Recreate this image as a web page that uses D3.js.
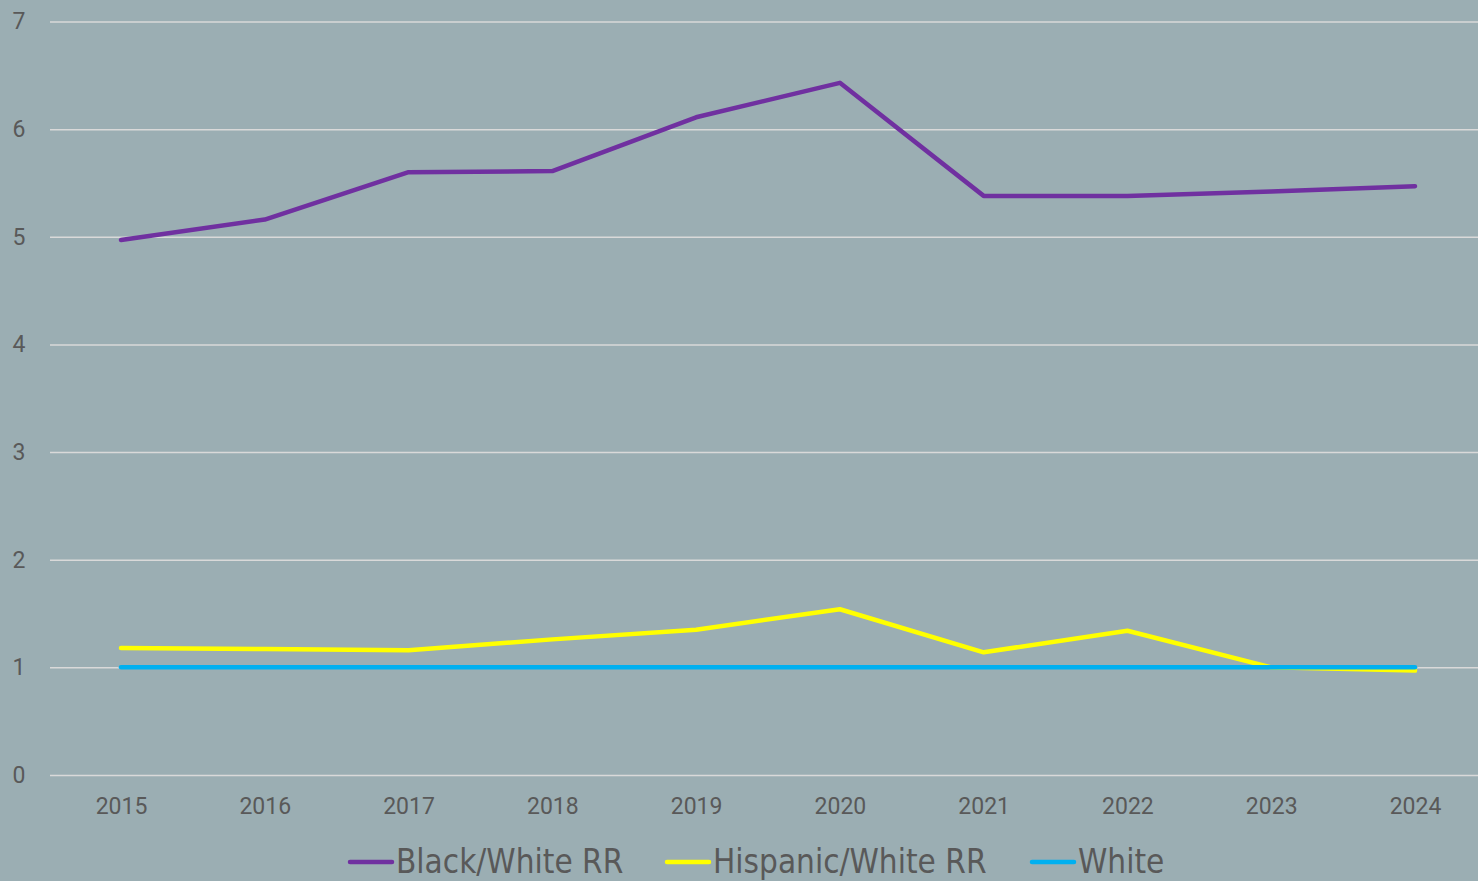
<!DOCTYPE html>
<html>
<head>
<meta charset="utf-8">
<script src="https://cdn.jsdelivr.net/npm/d3@7"></script>
<style>
  body { margin: 0; background: #9baeb3; overflow: hidden; }
  svg { display: block; }
</style>
</head>
<body>
<svg id="chart"></svg>
<script>
// data
const years = [2015, 2016, 2017, 2018, 2019, 2020, 2021, 2022, 2023, 2024];
const blackWhite = [4.97, 5.16, 5.60, 5.61, 6.11, 6.43, 5.38, 5.38, 5.42, 5.47];
const hispanicWhite = [1.18, 1.17, 1.16, 1.26, 1.35, 1.54, 1.14, 1.34, 1.00, 0.97];
const white = [1, 1, 1, 1, 1, 1, 1, 1, 1, 1];
const yTicks = [0, 1, 2, 3, 4, 5, 6, 7];

const seriesNames = ["Black/White RR", "Hispanic/White RR", "White"];
const seriesValues = [blackWhite, hispanicWhite, white];
const seriesColors = ["#7030a0", "#ffff00", "#00b0f0"];

const w = 1478, h = 881;
const padLeft = 50, padRight = w, padTop = 21.5, padBottom = 775;

const svg = d3.select("#chart").attr("width", w).attr("height", h);

// point scale so 2015 sits half a step in from the left edge
const xScale = d3.scalePoint().domain(years).range([121, 1415]);
const yScale = d3.scaleLinear().domain([0, 7]).range([padBottom, padTop]);

// gridlines
const axisY = d3.axisLeft(yScale).tickValues(yTicks).tickSize(-(padRight - padLeft)).tickFormat(d3.format("d"));
svg.append("g")
   .attr("transform", `translate(${padLeft},0)`)
   .call(axisY)
   .call(g => g.select(".domain").remove())
   .call(g => g.selectAll(".tick line").attr("stroke", "#d9d9d9").attr("stroke-width", 1.5))
   .call(g => g.selectAll(".tick text")
      .attr("x", -31)
      .attr("text-anchor", "middle")
      .attr("fill", "#595959")
      .style("font-family", "Roboto, sans-serif")
      .style("font-size", "23px"));

const axisX = d3.axisBottom(xScale).tickSize(0).tickPadding(23);
svg.append("g")
   .attr("transform", `translate(0,${padBottom})`)
   .call(axisX)
   .call(g => g.select(".domain").remove())
   .call(g => g.selectAll(".tick text")
      .attr("fill", "#595959")
      .style("font-family", "Roboto, sans-serif")
      .style("font-size", "23px"));

// lines
const line = d3.line().x((d, i) => xScale(years[i])).y(d => yScale(d));

svg.selectAll("path.series")
   .data(seriesValues)
   .enter()
   .append("path")
   .attr("class", "series")
   .attr("d", d => line(d))
   .attr("fill", "none")
   .attr("stroke", (d, i) => seriesColors[i])
   .attr("stroke-width", 4.5)
   .attr("stroke-linecap", "round")
   .attr("stroke-linejoin", "round");

// legend
const legendX = [348, 665, 1030];
const legend = svg.selectAll("g.legend")
   .data(seriesNames)
   .enter()
   .append("g")
   .attr("class", "legend")
   .attr("transform", (d, i) => `translate(${legendX[i]},862)`);

legend.append("line")
   .attr("x1", 2).attr("x2", 44)
   .attr("y1", 0).attr("y2", 0)
   .attr("stroke", (d, i) => seriesColors[i])
   .attr("stroke-width", 4.5)
   .attr("stroke-linecap", "round");

legend.append("text")
   .attr("x", 48)
   .attr("y", 11)
   .attr("fill", "#595959")
   .style("font-family", "'Liberation Sans Narrow', 'DejaVu Sans Condensed', sans-serif")
   .style("font-size", "33px")
   .text(d => d);
</script>
</body>
</html>
